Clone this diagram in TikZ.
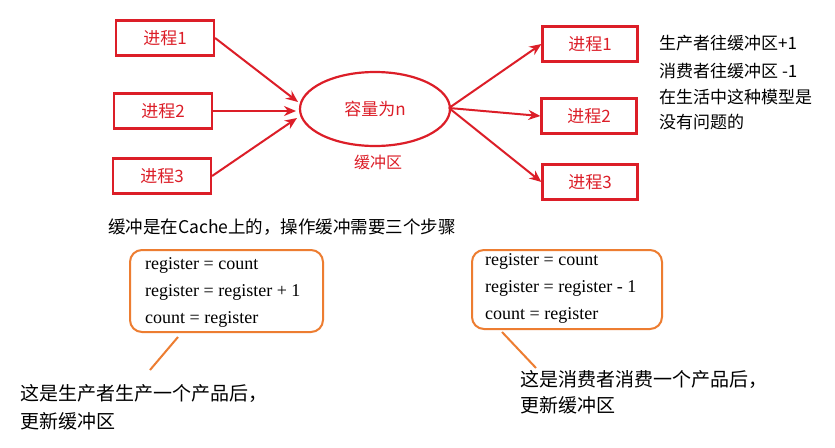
\documentclass[tikz,border=0pt]{standalone}
\usepackage{fontspec}
\setmainfont{Liberation Serif}
\newfontfamily\cjk{Noto Sans CJK SC}
\usetikzlibrary{shapes.geometric,arrows.meta}
\definecolor{rd}{RGB}{220,30,40}
\definecolor{og}{RGB}{237,125,49}
\tikzset{x=1pt,y=-1pt,
 pbox/.style={draw=rd,line width=2.2pt,minimum width=98pt,minimum height=35pt,text=rd,font=\cjk\fontsize{17}{19}\selectfont},
 arr/.style={draw=rd,line width=2pt,-{Stealth[length=12pt,width=10pt]}},
 obox/.style={draw=og,line width=2pt,rounded corners=12pt},
 txt/.style={anchor=west,inner sep=0,font=\cjk\fontsize{17}{19}\selectfont},
 code/.style={anchor=west,inner sep=0,font=\fontsize{18}{20}\selectfont}}
\begin{document}
\begin{tikzpicture}
\useasboundingbox[fill=white] (0,0) rectangle (835,447);
\node[pbox] (l1) at (165,38) {进程1};
\node[pbox] (l2) at (163,111) {进程2};
\node[pbox] (l3) at (162,176) {进程3};
\node[draw=rd,line width=2.2pt,ellipse,minimum width=150pt,minimum height=74pt,text=rd,font=\cjk\fontsize{17}{19}\selectfont] (buf) at (375,109) {容量为n};
\node[text=rd,font=\cjk\fontsize{16}{18}\selectfont] (bl) at (378,162) {缓冲区};
\node[pbox,minimum width=95pt] (r1) at (590,44) {进程1};
\node[pbox,minimum width=95pt] (r2) at (589,116) {进程2};
\node[pbox,minimum width=95pt] (r3) at (590,182) {进程3};
\coordinate (i1) at (298,102); \coordinate (i2) at (296,111); \coordinate (i3) at (297,118);
\coordinate (o) at (449,108);
\draw[arr] (l1.east) -- (i1);
\draw[arr] (l2.east) -- (i2);
\draw[arr] (l3.east) -- (i3);
\draw[arr] (o) -- (r1.west);
\draw[arr] (o) -- (r2.west);
\draw[arr] (o) -- (r3.west);
\node[txt] (n1) at (659,43) {生产者往缓冲区+1};
\node[txt] (n2) at (659,71) {消费者往缓冲区 -1};
\node[txt] (n3) at (659,97) {在生活中这种模型是};
\node[txt] (n4) at (659,122) {没有问题的};
\node[txt,font=\cjk\fontsize{17.5}{19}\selectfont] (cap) at (108,227) {缓冲是在Cache上的，操作缓冲需要三个步骤};
\draw[obox] (130,250) rectangle (323,332);
\node[code] (a1) at (145,265) {register = count};
\node[code] (a2) at (145,292) {register = register + 1};
\node[code] (a3) at (145,319) {count = register};
\draw[obox] (472,250) rectangle (662,329);
\node[code] (b1) at (485,261) {register = count};
\node[code] (b2) at (485,288) {register = register - 1};
\node[code] (b3) at (485,315) {count = register};
\coordinate (c1a) at (178,337); \coordinate (c1b) at (150,370);
\draw[og,line width=2pt] (c1a) -- (c1b);
\coordinate (c2a) at (502,332); \coordinate (c2b) at (536,368);
\draw[og,line width=2pt] (c2a) -- (c2b);
\node[txt,font=\cjk\fontsize{19}{21}\selectfont] (p1) at (20,393) {这是生产者生产一个产品后，};
\node[txt,font=\cjk\fontsize{19}{21}\selectfont] (p2) at (20,421) {更新缓冲区};
\node[txt,font=\cjk\fontsize{19}{21}\selectfont] (q1) at (520,379) {这是消费者消费一个产品后，};
\node[txt,font=\cjk\fontsize{19}{21}\selectfont] (q2) at (520,405) {更新缓冲区};
\end{tikzpicture}
\end{document}
